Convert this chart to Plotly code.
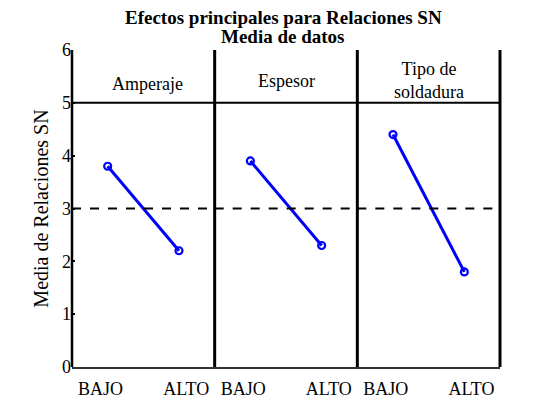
import plotly.graph_objects as go
from plotly.subplots import make_subplots

factors = ["Amperaje", "Espesor", "Tipo de<br>soldadura"]
levels = ["BAJO", "ALTO"]
amperaje = [3.8, 2.2]
espesor = [3.9, 2.3]
tipo_soldadura = [4.4, 1.8]
overall_mean = 3.0
y_ticks = [0, 1, 2, 3, 4, 5, 6]
title_lines = ["Efectos principales para Relaciones SN", "Media de datos"]

series = [amperaje, espesor, tipo_soldadura]
FONT = "Liberation Serif, Times New Roman, serif"

fig = make_subplots(rows=1, cols=3, shared_yaxes=True, horizontal_spacing=0)

header_pos = [(0.53, 5.36), (0.5, 5.41), (0.5, 5.42)]

for i, vals in enumerate(series):
    xs = [k + 1 for k in range(len(levels))]
    fig.add_trace(go.Scatter(
        x=xs, y=vals, mode="lines+markers",
        line=dict(color="#0000ff", width=3),
        marker=dict(symbol="circle-open", size=7, color="#0000ff", line=dict(width=2.2)),
        showlegend=False, hoverinfo="skip"), row=1, col=i + 1)
    fig.update_xaxes(range=[0.5, 2.5], tickvals=[0.9, 2.1], ticktext=levels,
                     showgrid=False, zeroline=False, showline=True, linecolor="#333",
                     linewidth=1.5, ticks="", ticklabelstandoff=5,
                     tickfont=dict(family=FONT, size=18, color="black"),
                     row=1, col=i + 1)
    fig.update_yaxes(range=[0, 6], showgrid=False, zeroline=False, showline=False,
                     row=1, col=i + 1)
    xd = f"x{'' if i == 0 else i + 1} domain"
    fig.add_annotation(text=factors[i], x=header_pos[i][0], xref=xd,
                       y=header_pos[i][1], yref="y", showarrow=False,
                       font=dict(family=FONT, size=18, color="black"))
    fig.add_shape(type="line", xref=xd, x0=0, x1=1,
                  yref="y", y0=overall_mean, y1=overall_mean,
                  line=dict(color="black", width=2, dash="dash"))

# panel frame lines
for k, xp in enumerate([0, 1 / 3, 2 / 3, 1]):
    fig.add_shape(type="line", xref="paper", x0=xp, x1=xp, yref="y", y0=0, y1=6,
                  line=dict(color="black", width=2.5 if k == 0 else 3))
fig.add_shape(type="line", xref="paper", x0=0, x1=1, yref="y", y0=5, y1=5,
              line=dict(color="black", width=2))

fig.update_yaxes(tickvals=y_ticks, ticks="inside", ticklen=3, tickwidth=1.5,
                 tickcolor="black", tickfont=dict(family=FONT, size=18, color="black"),
                 title=dict(text="Media de Relaciones SN", standoff=8,
                            font=dict(family=FONT, size=20, color="black")),
                 row=1, col=1)
fig.update_yaxes(ticks="", showticklabels=False, row=1, col=2)
fig.update_yaxes(ticks="", showticklabels=False, row=1, col=3)

for j, (txt, yp) in enumerate(zip(title_lines, [1.104, 1.044])):
    fig.add_annotation(text=f"<b>{txt}</b>", xref="paper", yref="paper", x=0.493, y=yp,
                       xanchor="center", yanchor="middle", showarrow=False,
                       font=dict(family=FONT, size=19, color="black"))

fig.update_layout(
    width=542, height=406,
    margin=dict(l=64, r=50, t=42, b=47),
    paper_bgcolor="white", plot_bgcolor="white",
)

fig.write_html("out.html")
